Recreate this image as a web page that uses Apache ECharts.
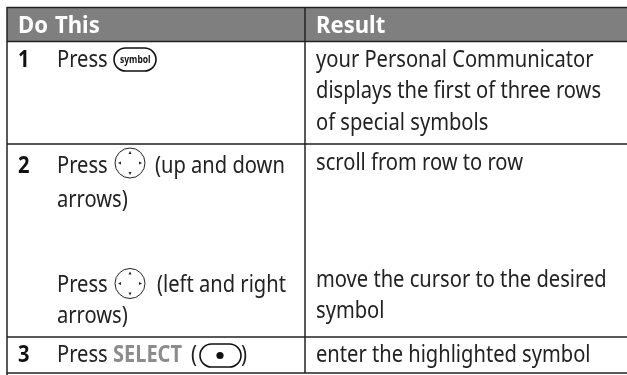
<!DOCTYPE html>
<html>
<head>
<meta charset="utf-8">
<style>
  html, body { margin: 0; padding: 0; background: #fff; }
  #main { width: 627px; height: 375px; }
</style>
<script src="https://cdn.jsdelivr.net/npm/echarts@6/dist/echarts.min.js"></script>
</head>
<body>
<div id="main"></div>
<script>
// table content
var headers = ['Do', 'This', 'Result'];
var stepNumbers = ['1', '2', '3'];
var actionTexts = ['Press', 'Press', '(up and down', 'arrows)', 'Press', '(left and right', 'arrows)', 'Press', '(', ')'];
var keyName = 'SELECT';
var keyLabel = 'symbol';
var resultTexts = [
  'your Personal Communicator',
  'displays the first of three rows',
  'of special symbols',
  'scroll from row to row',
  'move the cursor to the desired',
  'symbol',
  'enter the highlighted symbol'
];

// layout, in page pixels
var headerPos = [[18, 33], [55, 33], [316, 33]];
var stepPos = [[18, 67], [18, 173], [18, 362]];
var actionPos = [[57, 67], [57, 173], [155, 173], [57, 207], [57, 292], [157, 292], [57, 323], [57, 362], [191, 362], [241, 362]];
var keyNamePos = [113, 362];
var resultPos = [[316, 67], [316, 98], [316, 130], [316, 170], [316, 287], [316, 318], [316, 362]];
var rules = [
  [7, 7.5, 627, 7.5], [7, 41.5, 627, 41.5], [7, 144, 627, 144], [7, 337, 627, 337], [7, 373, 627, 373],
  [7, 7, 7, 375], [305, 7, 305, 373]
];
var arrowKeys = [[130, 163], [130, 283.5]];

var font = '"Noto Sans"';
var squeeze = 0.875;

// text is anchored at its top here, so step up from the baseline
function textEl(api, str, pos, style, scale, size) {
  var p = api.coord(pos);
  return {
    type: 'text', x: p[0], y: p[1] - size * 0.8, scaleX: scale, scaleY: 1, z2: 5,
    style: { text: str, font: style.font, fill: style.fill, textBaseline: 'top', textAlign: 'left' }
  };
}

function line(api, x1, y1, x2, y2, color, w) {
  var a = api.coord([x1, y1]), b = api.coord([x2, y2]);
  return { type: 'line', shape: { x1: a[0], y1: a[1], x2: b[0], y2: b[1] }, style: { stroke: color, lineWidth: w } };
}

function pill(api, x, y, w, h) {
  var p = api.coord([x, y]);
  return { type: 'rect', shape: { x: p[0], y: p[1], width: w, height: h, r: h / 2 }, style: { fill: '#fff', stroke: '#111', lineWidth: 1.6 } };
}

function arrowKey(api, c) {
  var p = api.coord(c), r = 15, kids = [];
  kids.push({ type: 'circle', shape: { cx: p[0], cy: p[1], r: r }, style: { fill: '#fff', stroke: '#222', lineWidth: 1 } });
  // small arrow heads pointing outwards
  [[0, -1], [0, 1], [-1, 0], [1, 0]].forEach(function (d) {
    var tip = 12, base = 9, half = 1.5;
    kids.push({
      type: 'polygon',
      shape: { points: [
        [p[0] + d[0] * tip, p[1] + d[1] * tip],
        [p[0] + d[0] * base - d[1] * half, p[1] + d[1] * base - d[0] * half],
        [p[0] + d[0] * base + d[1] * half, p[1] + d[1] * base + d[0] * half]
      ] },
      style: { fill: '#222' }
    });
  });
  return { type: 'group', children: kids };
}

function renderTable(params, api) {
  var kids = [];
  var head = api.coord([7, 8]);
  kids.push({ type: 'rect', shape: { x: head[0], y: head[1], width: 620, height: 33 }, style: { fill: '#7f7f7f' } });
  rules.forEach(function (r, i) {
    var soft = i === 2;
    kids.push(line(api, r[0], r[1], r[2], r[3], soft ? '#555' : '#222', soft ? 2 : 1.5));
  });
  var bold = { font: 'bold 23px ' + font, fill: '#fff' };
  headers.forEach(function (h, i) { kids.push(textEl(api, h, headerPos[i], bold, 0.96, 23)); });
  var num = { font: 'bold 23px ' + font, fill: '#111' };
  stepNumbers.forEach(function (s, i) { kids.push(textEl(api, s, stepPos[i], num, squeeze, 23)); });
  var body = { font: '23px ' + font, fill: '#222' };
  actionTexts.forEach(function (s, i) { kids.push(textEl(api, s, actionPos[i], body, squeeze, 23)); });
  resultTexts.forEach(function (s, i) { kids.push(textEl(api, s, resultPos[i], body, squeeze, 23)); });
  kids.push(textEl(api, keyName, keyNamePos, { font: 'bold 23px "Liberation Sans Narrow", ' + font, fill: '#8c8c8c' }, 0.87, 23));
  kids.push(pill(api, 114, 48, 42, 23));
  kids.push(textEl(api, keyLabel, [120, 63], { font: 'bold 10px ' + font, fill: '#111' }, 0.85, 10));
  arrowKeys.forEach(function (c) { kids.push(arrowKey(api, c)); });
  kids.push(pill(api, 200, 344, 41, 23));
  var dot = api.coord([220, 355.5]);
  kids.push({ type: 'circle', shape: { cx: dot[0], cy: dot[1], r: 3.6 }, style: { fill: '#111' } });
  return { type: 'group', children: kids };
}

var chart = echarts.init(document.getElementById('main'));
chart.setOption({
  animation: false,
  grid: { left: 0, right: 0, top: 0, bottom: 0 },
  xAxis: { type: 'value', min: 0, max: 627, show: false },
  yAxis: { type: 'value', min: 0, max: 375, inverse: true, show: false },
  series: [{ type: 'custom', coordinateSystem: 'cartesian2d', silent: true, clip: false, data: [[0, 0]], renderItem: renderTable }]
});
</script>
</body>
</html>
